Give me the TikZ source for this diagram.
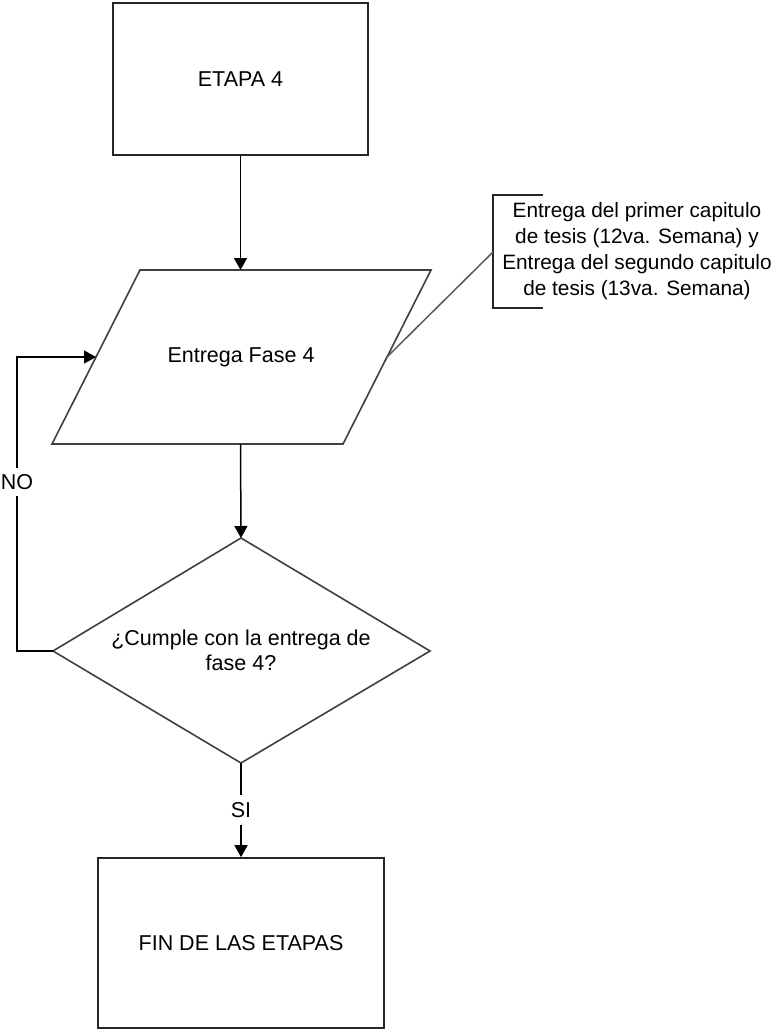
\documentclass[tikz,border=0pt]{standalone}
\usepackage{fontspec}
\setmainfont{Liberation Sans}
\usetikzlibrary{arrows.meta}
\begin{document}
\begin{tikzpicture}[x=1pt,y=-1pt,
  every node/.style={font=\fontsize{21.5}{26}\selectfont, text=black},
  boxst/.style={draw=black!85, line width=1.7pt, inner sep=0pt},
  shapeline/.style={draw=black!75, line width=1.6pt, line join=miter},
  flow/.style={draw=black, line width=1.5pt, -{Triangle[length=12pt,width=13pt]}},
  plain/.style={draw=black!85, line width=1.6pt},
  notecon/.style={draw=black!65, line width=1.5pt},
  lab/.style={fill=white, inner xsep=2pt, inner ysep=6pt}]
\useasboundingbox (0,0) rectangle (780,1030);
\fill[white] (0,0) rectangle (780,1030);

% Top box
\node[boxst, minimum width=255pt, minimum height=152pt] (etapa) at (240.5,79) {ETAPA 4};

% Parallelogram
\coordinate (pTL) at (140,270);
\coordinate (pTR) at (431,270);
\coordinate (pBR) at (343,444);
\coordinate (pBL) at (52,444);
\draw[shapeline] (pTL) -- (pTR) -- (pBR) -- (pBL) -- cycle;
\node (fase) at (241,357) {Entrega Fase 4};
\coordinate (faseN) at (240.5,270);
\coordinate (faseS) at (240.5,444);
\coordinate (faseW) at (96,357);
\coordinate (faseE) at (387,357);

% Decision diamond
\coordinate (decN) at (241,538);
\coordinate (decE) at (430,651);
\coordinate (decS) at (241,763);
\coordinate (decW) at (53,651);
\draw[shapeline] (decN) -- (decE) -- (decS) -- (decW) -- cycle;
\node[align=center, font=\fontsize{21.5}{25}\selectfont] (dec) at (241,650.5) {¿Cumple con la entrega de\\fase 4?};

% End box
\node[boxst, minimum width=286pt, minimum height=170pt] (fin) at (241,943) {FIN DE LAS ETAPAS};

% Annotation
\coordinate (brT) at (543,195);
\coordinate (brTL) at (493,195);
\coordinate (brBL) at (493,308);
\coordinate (brB) at (543,308);
\coordinate (brM) at (493,252);
\draw[plain] (brT) -- (brTL) -- (brBL) -- (brB);
\node[align=center, font=\fontsize{20.8}{26}\selectfont] (note) at (637,251) {Entrega del primer capitulo\\de tesis (12va. Semana) y\\Entrega del segundo capitulo\\de tesis (13va. Semana)};
\draw[notecon] (faseE) -- (brM);

% Flow connectors
\draw[flow] (etapa.south -| faseN) -- (faseN);
\draw[flow] (faseS) -- (decN);
\draw[flow] (decS) -- (fin.north);

% NO loop
\coordinate (noB) at (17,651);
\coordinate (noT) at (17,357);
\draw[flow] (decW) -- (noB) -- (noT) -- (faseW);
\node[lab] (nolab) at (17,482) {NO};

% SI label
\node[lab, inner ysep=7pt] (silab) at (241,810) {SI};
\end{tikzpicture}
\end{document}
